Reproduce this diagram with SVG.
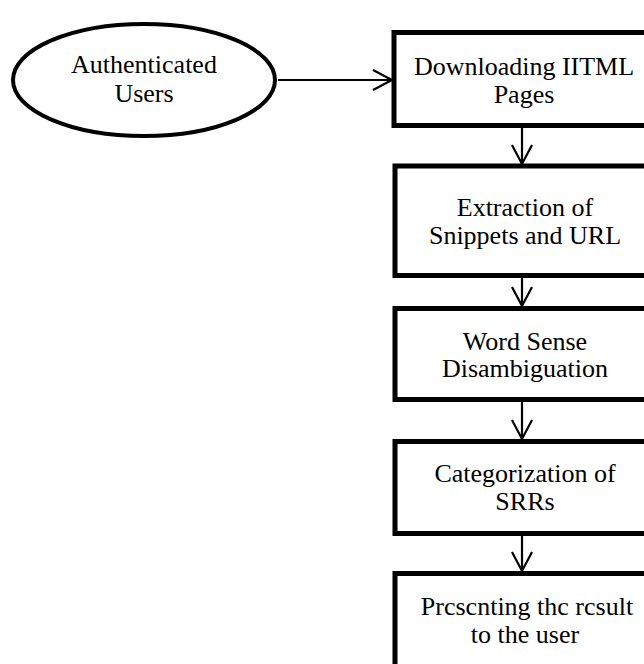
<svg xmlns="http://www.w3.org/2000/svg" width="644" height="664" viewBox="0 0 644 664">
<defs>
<style>
.box{fill:#fff;stroke:#000;stroke-width:5}
.ell{fill:#fff;stroke:#000;stroke-width:4}
.t{font-family:"Liberation Serif","Times New Roman",serif;font-size:26px;fill:#000;text-anchor:middle}
.con{fill:none;stroke:#000;stroke-width:2.2}
</style>
<marker id="arr" markerWidth="24" markerHeight="24" refX="20" refY="11" orient="auto" markerUnits="userSpaceOnUse">
<path d="M1,1 L20,11 L1,21" fill="none" stroke="#000" stroke-width="2.2"/>
</marker>
</defs>
<rect width="644" height="664" fill="#fff"/>
<g id="connectors">
<line class="con" x1="278" y1="80" x2="392" y2="80" marker-end="url(#arr)"/>
<line class="con" x1="522" y1="128" x2="522" y2="164" marker-end="url(#arr)"/>
<line class="con" x1="522" y1="278" x2="522" y2="306" marker-end="url(#arr)"/>
<line class="con" x1="522" y1="402" x2="522" y2="439" marker-end="url(#arr)"/>
<line class="con" x1="522" y1="536" x2="522" y2="571" marker-end="url(#arr)"/>
</g>
<g id="authenticated-users">
<ellipse class="ell" cx="144" cy="80" rx="131" ry="56"/>
<text class="t" x="144" y="73">Authenticated</text>
<text class="t" x="144" y="102">Users</text>
</g>
<g id="downloading">
<rect class="box" x="394" y="32.5" width="256" height="93"/>
<text class="t" x="524" y="75">Downloading IITML</text>
<text class="t" x="524" y="103">Pages</text>
</g>
<g id="extraction">
<rect class="box" x="395" y="166" width="256" height="109.5"/>
<text class="t" x="525" y="216">Extraction of</text>
<text class="t" x="525" y="244">Snippets and URL</text>
</g>
<g id="wsd">
<rect class="box" x="395" y="308.5" width="256" height="91"/>
<text class="t" x="525" y="350">Word Sense</text>
<text class="t" x="525" y="377">Disambiguation</text>
</g>
<g id="categorization">
<rect class="box" x="395" y="441.5" width="256" height="92"/>
<text class="t" x="525" y="482">Categorization of</text>
<text class="t" x="525" y="510">SRRs</text>
</g>
<g id="presenting">
<rect class="box" x="395" y="573.5" width="256" height="110"/>
<text class="t" x="527" y="615">Prcscnting thc rcsult</text>
<text class="t" x="525" y="643">to the user</text>
</g>
</svg>
